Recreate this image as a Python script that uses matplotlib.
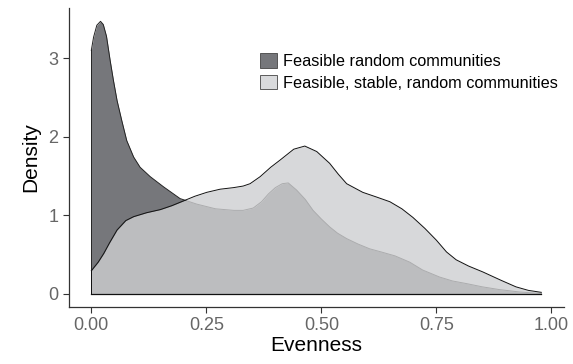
import matplotlib
matplotlib.use("Agg")
import matplotlib.pyplot as plt
from matplotlib.patches import Patch

plt.rcParams['font.family'] = ['Liberation Sans', 'DejaVu Sans']

# density of evenness, feasible random communities
feas_x = [0.0, 0.005, 0.012, 0.02, 0.026, 0.033, 0.041, 0.048, 0.056, 0.066,
          0.077, 0.092, 0.106, 0.128, 0.157, 0.193, 0.229, 0.27, 0.31, 0.33,
          0.352, 0.37, 0.385, 0.40, 0.415, 0.428, 0.446, 0.465, 0.482, 0.50,
          0.518, 0.535, 0.555, 0.58, 0.605, 0.63, 0.66, 0.692, 0.72, 0.757,
          0.785, 0.815, 0.85, 0.887, 0.93, 0.978]
feas_y = [3.10, 3.27, 3.42, 3.47, 3.43, 3.28, 2.97, 2.72, 2.46, 2.21,
          1.95, 1.74, 1.61, 1.49, 1.36, 1.21, 1.14, 1.08, 1.06, 1.06,
          1.09, 1.17, 1.27, 1.35, 1.40, 1.41, 1.32, 1.20, 1.06, 0.95,
          0.85, 0.77, 0.70, 0.63, 0.57, 0.53, 0.48, 0.40, 0.30, 0.21,
          0.16, 0.127, 0.085, 0.05, 0.02, 0.0]

# density of evenness, feasible and stable random communities
stab_x = [0.0, 0.015, 0.027, 0.04, 0.056, 0.075, 0.092, 0.12, 0.15, 0.175,
          0.2, 0.225, 0.251, 0.28, 0.309, 0.33, 0.345, 0.367, 0.39, 0.41,
          0.44, 0.464, 0.49, 0.518, 0.537, 0.555, 0.59, 0.62, 0.649, 0.675,
          0.699, 0.725, 0.75, 0.772, 0.793, 0.82, 0.851, 0.89, 0.923, 0.95,
          0.978]
stab_y = [0.29, 0.40, 0.51, 0.65, 0.81, 0.93, 0.98, 1.03, 1.07, 1.12,
          1.18, 1.24, 1.29, 1.33, 1.35, 1.37, 1.40, 1.49, 1.61, 1.70,
          1.84, 1.88, 1.81, 1.66, 1.52, 1.40, 1.29, 1.23, 1.17, 1.08,
          0.97, 0.83, 0.68, 0.53, 0.43, 0.35, 0.275, 0.17, 0.085, 0.04,
          0.015]

labels = ['Feasible random communities', 'Feasible, stable, random communities']
x_ticks = [0.0, 0.25, 0.5, 0.75, 1.0]
y_ticks = [0, 1, 2, 3]

dark = '#76777b'
light = '#cecfd1'

fig = plt.figure(figsize=(5.73, 3.64), dpi=100)
ax = fig.add_axes([0.12, 0.157, 0.864, 0.821])

# dark layer first, light layer drawn over it (half hides the dark outline)
ax.fill_between(feas_x, 0, feas_y, color=dark, lw=0, zorder=1)
ax.plot(feas_x, feas_y, color='#222222', lw=0.7, zorder=1.1)
ax.plot([feas_x[0], feas_x[0]], [0, feas_y[0]], color='#222222', lw=0.7, zorder=1.1)
ax.fill_between(stab_x, 0, stab_y, color=light, alpha=0.8, lw=0, zorder=2)
ax.plot(stab_x, stab_y, color='#111111', lw=0.7, zorder=2.1)
ax.plot([stab_x[0], stab_x[0]], [0, stab_y[0]], color='#111111', lw=0.7, zorder=2.1)
ax.plot([0, 0.978], [0, 0], color='#111111', lw=0.9, zorder=2.2)

ax.set_xlim(-0.049, 1.027)
ax.set_ylim(-0.17, 3.64)
ax.set_xticks(x_ticks)
ax.set_xticklabels(['%.2f' % v for v in x_ticks])
ax.set_yticks(y_ticks)
for s in ['top', 'right']:
    ax.spines[s].set_visible(False)
for s in ['left', 'bottom']:
    ax.spines[s].set_color('#333333')
    ax.spines[s].set_linewidth(0.9)
ax.tick_params(colors='#333333', labelcolor='#666666', labelsize=13,
               length=4, width=0.8)
ax.set_xlabel('Evenness', fontsize=15, labelpad=1)
ax.set_ylabel('Density', fontsize=15, labelpad=6)

handles = [Patch(facecolor=dark, edgecolor='#444444', lw=0.6),
           Patch(facecolor='#d9dadc', edgecolor='#444444', lw=0.6)]
ax.legend(handles, labels, loc='upper left', bbox_to_anchor=(0.374, 0.87),
          frameon=False, fontsize=11.7, handlelength=1.0, handleheight=1.0,
          handletextpad=0.4, labelspacing=0.35, borderaxespad=0)

fig.savefig('out.png', dpi=100)
